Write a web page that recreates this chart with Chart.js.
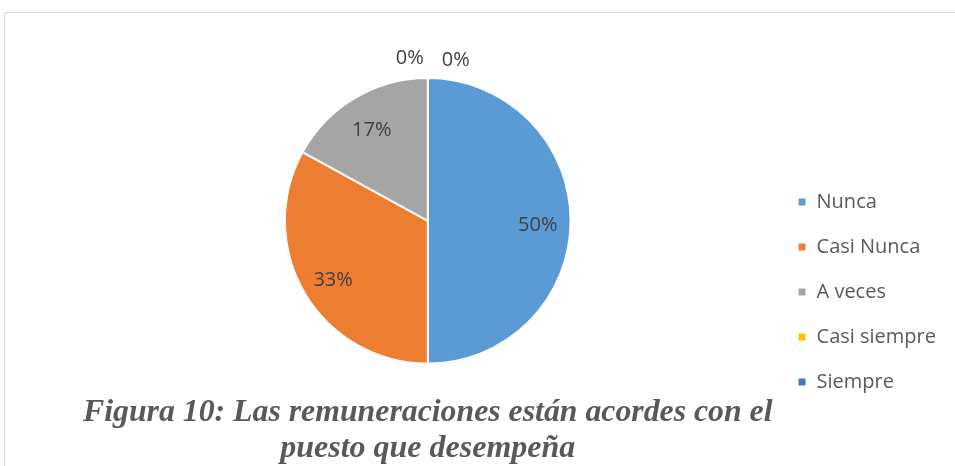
<!DOCTYPE html>
<html>
<head>
<meta charset="utf-8">
<script src="https://cdn.jsdelivr.net/npm/chart.js@4.4.1/dist/chart.umd.min.js"></script>
<style>
  html, body { margin: 0; padding: 0; background: #ffffff; }
  #wrap { position: absolute; left: 0; top: 0; width: 955px; height: 466px; }
  #frame { position: absolute; left: 4px; top: 12px; width: 1000px; height: 500px; border: 1px solid #d9d9d9; box-sizing: border-box; }
  canvas { position: absolute; left: 0; top: 0; }
</style>
</head>
<body>
<div id="wrap">
  <div id="frame"></div>
  <canvas id="c" width="955" height="466"></canvas>
</div>
<script>
const categories = ['Nunca', 'Casi Nunca', 'A veces', 'Casi siempre', 'Siempre'];
const values = [50, 33, 17, 0, 0];
const colors = ['#5B9BD5', '#ED7D31', '#A5A5A5', '#FFC000', '#4472C4'];
const titleLines = ['Figura 10: Las remuneraciones están acordes con el', 'puesto que desempeña'];

const sansFamily = '"Open Sans", "Noto Sans", sans-serif';

const pctLabels = {
  id: 'pctLabels',
  afterDatasetsDraw(chart) {
    const ctx = chart.ctx;
    const meta = chart.getDatasetMeta(0);
    const data = chart.data.datasets[0].data;
    const total = data.reduce((a, b) => a + b, 0);
    ctx.save();
    ctx.font = '20px ' + sansFamily;
    ctx.fillStyle = '#404040';
    ctx.textAlign = 'center';
    ctx.textBaseline = 'middle';
    let zeroIdx = 0;
    meta.data.forEach((arc, i) => {
      const p = arc.getProps(['x', 'y', 'startAngle', 'endAngle', 'outerRadius'], true);
      const pct = Math.round(data[i] / total * 100) + '%';
      if (data[i] > 0) {
        const mid = (p.startAngle + p.endAngle) / 2;
        const r = p.outerRadius * 0.77;
        ctx.fillText(pct, p.x + Math.cos(mid) * r, p.y + Math.sin(mid) * r + 4);
      } else {
        const dx = zeroIdx === 0 ? -18 : 28;
        ctx.fillText(pct, p.x + dx, p.y - p.outerRadius - 20 + zeroIdx * 2);
        zeroIdx++;
      }
    });
    ctx.restore();
  }
};

new Chart(document.getElementById('c'), {
  type: 'pie',
  data: {
    labels: categories,
    datasets: [{
      data: values,
      backgroundColor: colors,
      borderColor: '#ffffff',
      borderWidth: 2
    }]
  },
  options: {
    responsive: false,
    animation: false,
    layout: { padding: { top: 77, left: 83, right: 9, bottom: 0 } },
    plugins: {
      tooltip: { enabled: false },
      legend: {
        position: 'right',
        align: 'start',
        title: { display: true, text: ' ', font: { size: 10 }, padding: { top: 78, bottom: 0 } },
        labels: {
          boxWidth: 9,
          boxHeight: 9,
          padding: 25,
          color: '#595959',
          font: { family: sansFamily, size: 20 }
        }
      },
      title: {
        display: true,
        position: 'bottom',
        fullSize: false,
        text: titleLines,
        color: '#595959',
        font: { family: '"Liberation Serif", "Times New Roman", serif', size: 32, style: 'italic', weight: 'bold', lineHeight: 1.1 },
        padding: { top: 31, bottom: 0 }
      }
    }
  },
  plugins: [pctLabels]
});
</script>
</body>
</html>
